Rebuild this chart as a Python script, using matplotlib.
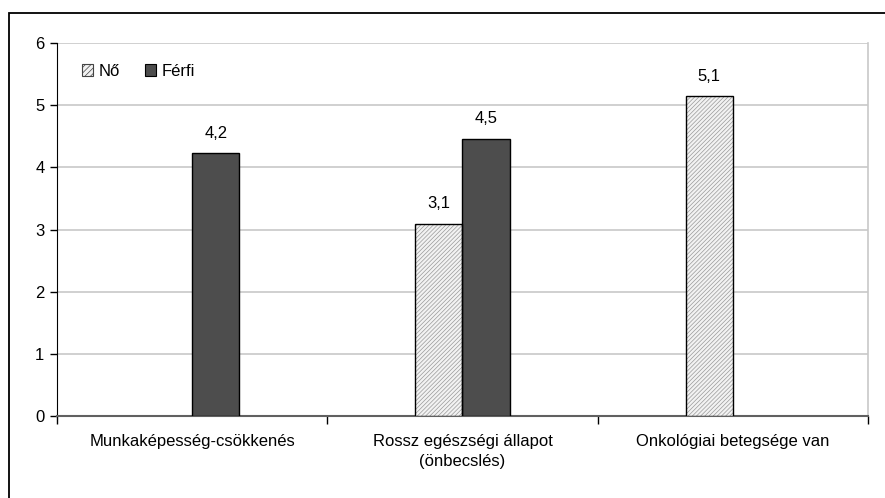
import numpy as np
import matplotlib.pyplot as plt
from matplotlib.patches import Rectangle, Patch

plt.rcParams['font.family'] = ['Liberation Sans', 'DejaVu Sans']
plt.rcParams['hatch.linewidth'] = 0.5

# --- data ---
categories = ["Munkaképesség-csökkenés", "Rossz egészségi állapot\n(önbecslés)",
              "Onkológiai betegsége van"]
series_names = ["Nő", "Férfi"]
no_values = [np.nan, 3.09, 5.14]
ferfi_values = [4.23, 4.46, np.nan]
yticks = [0, 1, 2, 3, 4, 5, 6]

fig = plt.figure(figsize=(8.85, 4.98), dpi=100)
ax = fig.add_axes([57 / 885, 82 / 498, 811 / 885, 373 / 498])

# outer chart frame
fig.patches.append(Rectangle((9 / 885, -0.1), 880 / 885, 1.1 - 13 / 498,
                             transform=fig.transFigure, fill=False,
                             edgecolor="black", linewidth=1.3))

x = np.arange(len(categories))
w = 0.175

# Nő bars: hatch layer first, then black outline
ax.bar(x - w / 2, no_values, w, color="#f2f2f2", edgecolor="#999999",
       hatch="////////", linewidth=0, zorder=3)
ax.bar(x - w / 2, no_values, w, fill=False, edgecolor="black",
       linewidth=1.0, zorder=4)
ax.bar(x + w / 2, ferfi_values, w, color="#4d4d4d", edgecolor="black",
       linewidth=1.0, zorder=3)

# data labels
for xs, vals in [(x - w / 2, no_values), (x + w / 2, ferfi_values)]:
    for xi, v in zip(xs, vals):
        if np.isnan(v):
            continue
        ax.annotate(f"{v:.1f}".replace(".", ","), (xi, v), xytext=(0, 9),
                    textcoords="offset points", ha="center", va="bottom",
                    fontsize=12, zorder=5,
                    bbox=dict(facecolor="white", edgecolor="none", pad=1))

ax.set_xlim(-0.5, 2.5)
ax.set_ylim(0, 6)
ax.set_yticks(yticks)
ax.set_yticklabels([str(t) for t in yticks], fontsize=12)
ax.yaxis.grid(True, color="#c8c8c8", linewidth=1.2, zorder=0)
ax.set_axisbelow(True)

# category labels centered, tick marks at category boundaries
ax.set_xticks(x)
ax.set_xticklabels(categories, fontsize=12, linespacing=1.4)
ax.tick_params(axis="x", length=0, pad=13)
ax.set_xticks([-0.5, 0.5, 1.5, 2.5], minor=True)
ax.tick_params(axis="x", which="minor", length=6, width=1, color="black",
               direction="out")
ax.tick_params(axis="y", length=5, width=1, direction="out", pad=4)

ax.spines["left"].set_color("black")
ax.spines["bottom"].set_color("#606060")
ax.spines["bottom"].set_linewidth(1.5)
ax.spines["right"].set_color("#c8c8c8")
ax.spines["right"].set_linewidth(1.2)
ax.spines["top"].set_visible(False)

handles = [Patch(facecolor="#f2f2f2", edgecolor="#444444", hatch="//////",
                 linewidth=0.8),
           Patch(facecolor="#4d4d4d", edgecolor="black", linewidth=0.8)]
ax.legend(handles, series_names, loc="upper left",
          bbox_to_anchor=(0.012, 0.985), ncol=2, frameon=False, fontsize=12,
          handlelength=0.7, handleheight=0.7, handletextpad=0.3,
          columnspacing=1.5)

fig.savefig("out.png", dpi=100)
